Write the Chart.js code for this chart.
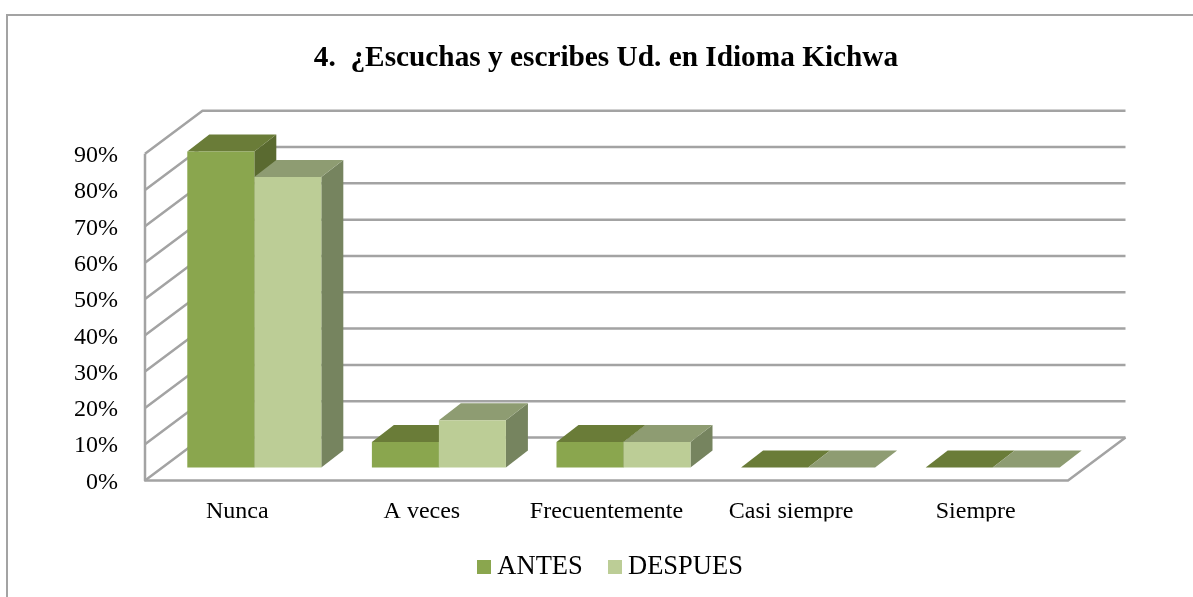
<!DOCTYPE html>
<html>
<head>
<meta charset="utf-8">
<title>Escuchas y escribes</title>
<script src="https://cdn.jsdelivr.net/npm/chart.js@4"></script>
<style>
    html, body { margin: 0; padding: 0; background: #fff; overflow: hidden; }
    #wrap { position: relative; width: 1193px; height: 597px; }
</style>
</head>
<body>
<div id="wrap"><canvas id="chart" width="1193" height="597"></canvas></div>
<script>
// Values (percent)
const categories = ['Nunca', 'A veces', 'Frecuentemente', 'Casi siempre', 'Siempre'];
const antes = [87, 7, 7, 0, 0];
const despues = [80, 13, 7, 0, 0];

const titleText = '4.  ¿Escuchas y escribes Ud. en Idioma Kichwa';
const serif = '"Liberation Serif", "Times New Roman", serif';

// 3D look: the wall sits behind the front axis, bars stand part way in
const WALL = { dx: 57.5, dy: -43 };
const BAR_SHIFT = { dx: 17, dy: -13 };
const BAR_DEPTH = { dx: 22, dy: -17 };
const GRID_COLOR = '#a3a3a3';

const colors = {
    ANTES: { front: '#8aa64e', top: '#6a7c38', side: '#5a6a30' },
    DESPUES: { front: '#bccd96', top: '#8e9c72', side: '#76845f' }
};

function poly(ctx, pts, color) {
    ctx.fillStyle = color;
    ctx.beginPath();
    pts.forEach((p, i) => i ? ctx.lineTo(p[0], p[1]) : ctx.moveTo(p[0], p[1]));
    ctx.closePath();
    ctx.fill();
}

// Legend swatch as a small canvas: native box-to-text gap is too wide for this chart
function swatch(color) {
    const c = document.createElement('canvas');
    c.width = 14;
    c.height = 14;
    const g = c.getContext('2d');
    g.fillStyle = color;
    g.fillRect(0, 0, 14, 14);
    return c;
}

const box3d = {
    id: 'box3d',
    afterLayout(chart) {
        // the original frame is wider than the crop, so title and legend sit right of centre
        chart.titleBlock.left += 72;
        chart.titleBlock.right += 72;
        chart.legend.left += 79.5;
        chart.legend.right += 79.5;
    },
    beforeDraw(chart) {
        const ctx = chart.ctx;
        ctx.save();
        ctx.strokeStyle = GRID_COLOR;
        ctx.lineWidth = 2;
        ctx.beginPath();
        ctx.moveTo(7, 597);
        ctx.lineTo(7, 15);
        ctx.lineTo(1193, 15);
        ctx.stroke();
        ctx.restore();
    },
    beforeDatasetsDraw(chart) {
        const ctx = chart.ctx;
        const y = chart.scales.y;
        const x = chart.scales.x;
        ctx.save();
        ctx.strokeStyle = GRID_COLOR;
        ctx.lineWidth = 2.5;
        ctx.lineJoin = 'round';
        y.ticks.forEach(t => {
            const py = y.getPixelForValue(t.value);
            ctx.beginPath();
            ctx.moveTo(x.left, py);
            ctx.lineTo(x.left + WALL.dx, py + WALL.dy);
            ctx.lineTo(x.right + WALL.dx, py + WALL.dy);
            ctx.stroke();
        });
        // front axis and floor edge
        const y0 = y.getPixelForValue(0);
        ctx.beginPath();
        ctx.moveTo(x.left, y.getPixelForValue(90));
        ctx.lineTo(x.left, y0);
        ctx.lineTo(x.right, y0);
        ctx.lineTo(x.right + WALL.dx, y0 + WALL.dy);
        ctx.stroke();

        // Side and top faces, left series first. Fronts come later from the library,
        // last dataset first, so DESPUES front covers the ANTES side.
        ctx.translate(BAR_SHIFT.dx, BAR_SHIFT.dy);
        chart.data.datasets.forEach((ds, i) => {
            const c = colors[ds.label];
            chart.getDatasetMeta(i).data.forEach(el => {
                const l = el.x - el.width / 2, r = el.x + el.width / 2;
                const d = BAR_DEPTH;
                poly(ctx, [[r, el.y], [r + d.dx, el.y + d.dy], [r + d.dx, el.base + d.dy], [r, el.base]], c.side);
                poly(ctx, [[l, el.y], [l + d.dx, el.y + d.dy], [r + d.dx, el.y + d.dy], [r, el.y]], c.top);
            });
        });
        ctx.restore();
    },
    beforeDatasetDraw(chart) {
        chart.ctx.save();
        chart.ctx.translate(BAR_SHIFT.dx, BAR_SHIFT.dy);
    },
    afterDatasetDraw(chart) {
        chart.ctx.restore();
    }
};

new Chart(document.getElementById('chart'), {
    type: 'bar',
    data: {
        labels: categories,
        datasets: [
            { label: 'ANTES', data: antes, backgroundColor: colors.ANTES.front, clip: false },
            { label: 'DESPUES', data: despues, backgroundColor: colors.DESPUES.front, clip: false }
        ]
    },
    options: {
        responsive: false,
        animation: false,
        layout: { padding: { left: 0, right: 125, top: 0, bottom: 7 } },
        datasets: { bar: { categoryPercentage: 0.726, barPercentage: 1, borderWidth: 0 } },
        plugins: {
            tooltip: { enabled: false },
            title: {
                display: true,
                text: titleText,
                color: '#000',
                font: { family: serif, size: 29.3, weight: 'bold', lineHeight: 1.15 },
                padding: { top: 42, bottom: 78 }
            },
            legend: {
                position: 'bottom',
                onClick: null,
                labels: {
                    color: '#000',
                    font: { family: serif, size: 26.5 },
                    usePointStyle: true,
                    boxWidth: 0.01, // 0 would make the legend skip the swatch
                    boxHeight: 14,
                    padding: 32,
                    generateLabels(chart) {
                        return Chart.defaults.plugins.legend.labels.generateLabels(chart).map(item => {
                            item.pointStyle = swatch(colors[item.text].front);
                            return item;
                        });
                    }
                }
            }
        },
        scales: {
            x: {
                grid: { display: false, drawTicks: false },
                border: { display: false },
                ticks: { color: '#000', font: { family: serif, size: 24 }, padding: 17, autoSkip: false, maxRotation: 0 },
                afterFit(s) { s.height = 41; }
            },
            y: {
                min: 0,
                max: 90,
                grid: { display: false, drawTicks: false },
                border: { display: false },
                ticks: {
                    stepSize: 10,
                    color: '#000',
                    font: { family: serif, size: 24 },
                    padding: 27,
                    labelOffset: 2,
                    callback: v => v + '%'
                },
                afterFit(s) { s.width = 145; }
            }
        }
    },
    plugins: [box3d]
});
</script>
</body>
</html>
